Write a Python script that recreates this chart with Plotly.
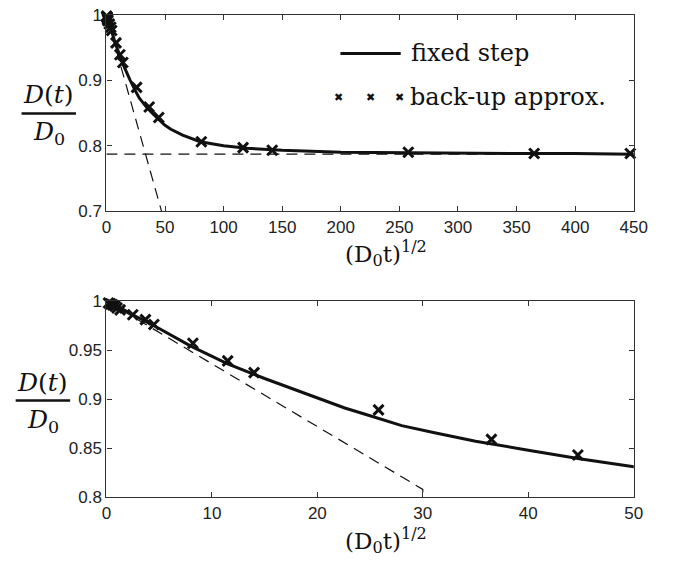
import plotly.graph_objects as go

W, H = 685, 573

# ---- data ----
fixed_x = [0, 1, 2.5, 5, 8, 11.5, 15, 20, 22.6, 25, 28, 31, 35, 40, 45, 50,
           55, 65, 80, 100, 120, 150, 200, 250, 300, 350, 400, 450]
fixed_y = [1.0, 0.995, 0.986, 0.972, 0.954, 0.936, 0.921, 0.901, 0.891, 0.883,
           0.873, 0.866, 0.857, 0.848, 0.839, 0.831, 0.825, 0.816, 0.806, 0.800,
           0.796, 0.793, 0.790, 0.789, 0.789, 0.788, 0.788, 0.787]

backup_x = [0.2, 0.4, 0.6, 0.8, 1.0, 1.3, 2.5, 3.7, 4.5, 8.2, 11.5, 14.0,
            25.8, 36.5, 44.7, 81, 116.6, 141.5, 257.6, 365, 447]
backup_y = [0.998, 0.997, 0.996, 0.995, 0.993, 0.991, 0.986, 0.981, 0.976,
            0.957, 0.939, 0.927, 0.889, 0.859, 0.843, 0.806, 0.797, 0.793,
            0.790, 0.788, 0.788]

tangent_top_x = [0, 47]
tangent_top_y = [1.0, 0.7]
asym_x = [0, 450]
asym_y = [0.787, 0.787]
tangent_bot_x = [0, 30, 30]
tangent_bot_y = [1.0, 0.808, 0.805]

top_xticks = [0, 50, 100, 150, 200, 250, 300, 350, 400, 450]
top_yticks = [0.7, 0.8, 0.9, 1.0]
top_ylabels = ["0.7", "0.8", "0.9", "1"]
bot_xticks = [0, 10, 20, 30, 40, 50]
bot_yticks = [0.8, 0.85, 0.9, 0.95, 1.0]
bot_ylabels = ["0.8", "0.85", "0.9", "0.95", "1"]

def px(x):
    return x / W

def py(y):
    return 1 - y / H

LINE = "#111111"
AX = "#333333"
SERIF = "DejaVu Serif"
SANS = "Liberation Sans"

fig = go.Figure()

line_style = dict(color=LINE, width=3)
mark_style = dict(symbol="x-thin", size=10, line=dict(color=LINE, width=3), color=LINE)
dash_style = dict(color=LINE, width=1.2, dash="11px,7px")

# top panel
fig.add_trace(go.Scatter(x=asym_x, y=asym_y, mode="lines", line=dash_style,
                         xaxis="x", yaxis="y", showlegend=False))
fig.add_trace(go.Scatter(x=tangent_top_x, y=tangent_top_y, mode="lines", line=dash_style,
                         xaxis="x", yaxis="y", showlegend=False))
fig.add_trace(go.Scatter(x=fixed_x, y=fixed_y, mode="lines", line=line_style,
                         xaxis="x", yaxis="y", name="fixed step", showlegend=False))
fig.add_trace(go.Scatter(x=backup_x, y=backup_y, mode="markers", marker=mark_style,
                         xaxis="x", yaxis="y", name="back-up approx.", showlegend=False,
                         cliponaxis=False))

# bottom panel
fig.add_trace(go.Scatter(x=tangent_bot_x, y=tangent_bot_y, mode="lines", line=dash_style,
                         xaxis="x2", yaxis="y2", showlegend=False))
fig.add_trace(go.Scatter(x=fixed_x, y=fixed_y, mode="lines", line=line_style,
                         xaxis="x2", yaxis="y2", showlegend=False))
bx = [x for x in backup_x if x <= 50]
by = [y for x, y in zip(backup_x, backup_y) if x <= 50]
fig.add_trace(go.Scatter(x=bx, y=by, mode="markers", marker=mark_style,
                         xaxis="x2", yaxis="y2", showlegend=False, cliponaxis=False))

xdom = [px(104.3), px(646.7)]
top_ydom = [py(209), py(6)]
bot_ydom = [py(505), py(302)]

axis_common = dict(showline=True, linecolor=AX, linewidth=1.3, mirror="ticks",
                   ticks="inside", ticklen=5, tickcolor=AX, tickwidth=1,
                   showgrid=False, zeroline=False,
                   tickfont=dict(family=SANS, size=17, color="#222222"))

fig.update_layout(
    width=W, height=H,
    margin=dict(l=0, r=0, t=0, b=0),
    paper_bgcolor="white", plot_bgcolor="white",
    xaxis=dict(domain=xdom, range=[0, 450], tickvals=top_xticks, anchor="y", **axis_common),
    yaxis=dict(domain=top_ydom, range=[0.7, 1.0], tickvals=top_yticks, ticktext=top_ylabels,
               anchor="x", **axis_common),
    xaxis2=dict(domain=xdom, range=[0, 50], tickvals=bot_xticks, anchor="y2", **axis_common),
    yaxis2=dict(domain=bot_ydom, range=[0.8, 1.0], tickvals=bot_yticks, ticktext=bot_ylabels,
                anchor="x2", **axis_common),
    showlegend=False,
)

annotations = []
shapes = []

# x-axis titles
for yc in (253, 550):
    annotations.append(dict(x=px(392), y=py(yc), xref="paper", yref="paper",
                            text="(D<sub>0</sub>t)<sup>1/2</sup>", showarrow=False,
                            xanchor="center", yanchor="middle",
                            font=dict(family=SERIF, size=23, color="#111111")))

# y-axis fraction labels
for xc, ybar in ((45, 108), (39, 405)):
    annotations.append(dict(x=px(xc), y=py(ybar - 2), xref="paper", yref="paper",
                            text="<i>D</i>(<i>t</i>)", showarrow=False,
                            xanchor="center", yanchor="bottom",
                            font=dict(family=SERIF, size=25, color="#111111")))
    annotations.append(dict(x=px(xc), y=py(ybar + 2), xref="paper", yref="paper",
                            text="<i>D</i><sub>0</sub>", showarrow=False,
                            xanchor="center", yanchor="top",
                            font=dict(family=SERIF, size=25, color="#111111")))
    shapes.append(dict(type="line", xref="paper", yref="paper",
                       x0=px(xc - 28), x1=px(xc + 28), y0=py(ybar), y1=py(ybar),
                       line=dict(color=LINE, width=2.5)))

# legend (drawn manually to mimic the MATLAB legend)
shapes.append(dict(type="line", xref="paper", yref="paper",
                   x0=px(345), x1=px(407), y0=py(46), y1=py(46),
                   line=dict(color=LINE, width=3)))
annotations.append(dict(x=px(416), y=py(45), xref="paper", yref="paper",
                        text="fixed step", showarrow=False, xanchor="left", yanchor="middle",
                        font=dict(family=SERIF, size=24, color="#111111")))
for mx in (343, 376, 406):
    annotations.append(dict(x=px(mx), y=py(92), xref="paper", yref="paper",
                            text="\u2716", showarrow=False, xanchor="center", yanchor="middle",
                            font=dict(family="DejaVu Sans", size=11, color="#111111")))
annotations.append(dict(x=px(414), y=py(91), xref="paper", yref="paper",
                        text="back-up approx.", showarrow=False, xanchor="left", yanchor="middle",
                        font=dict(family=SERIF, size=24, color="#111111")))

fig.update_layout(annotations=annotations, shapes=shapes)

fig.write_html("out.html")
